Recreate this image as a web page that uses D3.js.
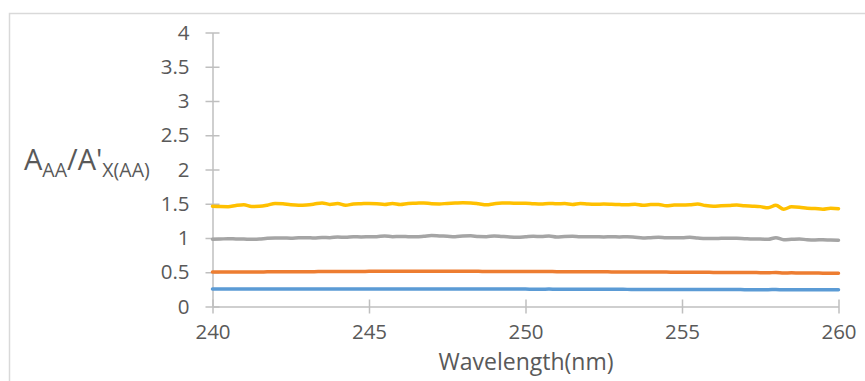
<!DOCTYPE html>
<html>
<head>
<meta charset="utf-8">
<script src="https://cdn.jsdelivr.net/npm/d3@7"></script>
<style>
  html, body { margin: 0; padding: 0; background: #fff; }
  svg { display: block; font-family: "Open Sans", sans-serif; }
</style>
</head>
<body>
<svg id="chart" width="865" height="381"></svg>
<script>
// Wavelength grid (nm), 0.25 nm step
const wavelengths = [
  240.00,240.25,240.50,240.75,241.00,241.25,241.50,241.75,242.00,242.25,242.50,242.75,
  243.00,243.25,243.50,243.75,244.00,244.25,244.50,244.75,245.00,245.25,245.50,245.75,
  246.00,246.25,246.50,246.75,247.00,247.25,247.50,247.75,248.00,248.25,248.50,248.75,
  249.00,249.25,249.50,249.75,250.00,250.25,250.50,250.75,251.00,251.25,251.50,251.75,
  252.00,252.25,252.50,252.75,253.00,253.25,253.50,253.75,254.00,254.25,254.50,254.75,
  255.00,255.25,255.50,255.75,256.00,256.25,256.50,256.75,257.00,257.25,257.50,257.75,
  258.00,258.25,258.50,258.75,259.00,259.25,259.50,259.75,260.00
];

// Absorbance ratios A_AA / A'_X(AA)
const seriesBlue = [
  0.255,0.255,0.254,0.255,0.255,0.254,0.255,0.255,0.255,0.254,0.255,0.255,
  0.255,0.255,0.256,0.255,0.255,0.255,0.256,0.255,0.256,0.256,0.255,0.256,
  0.256,0.255,0.255,0.256,0.255,0.255,0.255,0.254,0.255,0.255,0.254,0.254,
  0.254,0.254,0.255,0.254,0.254,0.253,0.253,0.254,0.253,0.253,0.252,0.252,
  0.252,0.252,0.251,0.252,0.251,0.250,0.250,0.250,0.250,0.249,0.249,0.249,
  0.249,0.248,0.248,0.248,0.247,0.247,0.247,0.247,0.246,0.246,0.246,0.246,
  0.247,0.245,0.245,0.245,0.245,0.244,0.244,0.244,0.244
];
const seriesOrange = [
  0.505,0.505,0.505,0.504,0.504,0.505,0.505,0.506,0.507,0.508,0.508,0.508,
  0.509,0.509,0.510,0.510,0.510,0.511,0.512,0.512,0.513,0.513,0.514,0.514,
  0.514,0.514,0.514,0.514,0.515,0.514,0.514,0.514,0.514,0.514,0.513,0.512,
  0.512,0.512,0.511,0.510,0.510,0.510,0.511,0.510,0.509,0.509,0.508,0.508,
  0.507,0.506,0.506,0.505,0.505,0.505,0.504,0.503,0.503,0.502,0.502,0.501,
  0.500,0.500,0.500,0.499,0.498,0.497,0.497,0.497,0.496,0.495,0.494,0.492,
  0.497,0.490,0.491,0.490,0.488,0.488,0.487,0.487,0.486
];
const seriesGray = [
  0.982,0.985,0.990,0.987,0.985,0.980,0.985,0.995,1.000,1.000,0.998,1.003,
  1.005,1.000,1.008,1.005,1.015,1.010,1.018,1.015,1.018,1.020,1.030,1.020,
  1.022,1.020,1.018,1.025,1.035,1.030,1.025,1.020,1.028,1.032,1.022,1.020,
  1.030,1.022,1.015,1.012,1.018,1.025,1.022,1.030,1.015,1.022,1.025,1.018,
  1.020,1.018,1.015,1.018,1.015,1.018,1.010,1.000,1.005,1.010,1.005,1.005,
  1.005,1.010,1.000,0.992,0.992,0.995,0.998,0.995,0.990,0.985,0.985,0.980,
  1.005,0.975,0.980,0.985,0.975,0.972,0.975,0.970,0.968
];
const seriesYellow = [
  1.465,1.460,1.458,1.475,1.485,1.460,1.462,1.478,1.505,1.500,1.485,1.478,
  1.482,1.495,1.512,1.490,1.502,1.478,1.495,1.500,1.505,1.500,1.490,1.505,
  1.490,1.505,1.508,1.512,1.500,1.498,1.505,1.510,1.515,1.512,1.500,1.485,
  1.500,1.510,1.510,1.508,1.508,1.500,1.495,1.505,1.500,1.502,1.490,1.505,
  1.495,1.492,1.495,1.492,1.488,1.485,1.492,1.478,1.488,1.490,1.470,1.480,
  1.480,1.485,1.495,1.475,1.465,1.470,1.475,1.482,1.470,1.465,1.458,1.440,
  1.478,1.420,1.455,1.450,1.435,1.430,1.420,1.435,1.428
];

const seriesList = [
  { values: seriesBlue,   color: "#5B9BD5" },
  { values: seriesOrange, color: "#ED7D31" },
  { values: seriesGray,   color: "#A5A5A5" },
  { values: seriesYellow, color: "#FFC000" }
];

const xTicks = [240, 245, 250, 255, 260];
const yTicks = [0, 0.5, 1, 1.5, 2, 2.5, 3, 3.5, 4];

const svg = d3.select("#chart");
const axisColor = "#BFBFBF";
const textColor = "#595959";

// Outer chart frame
svg.append("rect")
  .attr("x", 9.5).attr("y", 13.5)
  .attr("width", 880).attr("height", 400)
  .attr("fill", "none")
  .attr("stroke", "#D9D9D9")
  .attr("stroke-width", 1.5);

const x = d3.scaleLinear().domain([240, 260]).range([212.5, 838.5]);
const y = d3.scaleLinear().domain([0, 4]).range([306.5, 32.5]);

// Y axis
const yAxis = svg.append("g").attr("transform", `translate(${x(240)},0)`)
  .call(d3.axisLeft(y).tickValues(yTicks).tickSize(0).tickPadding(23)
    .tickFormat(d3.format("")));
yAxis.select(".domain").attr("stroke", axisColor).attr("stroke-width", 1.5);
yAxis.selectAll(".tick text").attr("fill", textColor).attr("font-size", 20.5)
  .attr("font-family", "Open Sans");
yAxis.selectAll(".tick").append("line")
  .attr("x1", -7).attr("x2", 7)
  .attr("stroke", axisColor).attr("stroke-width", 1.5);

// X axis
const xAxis = svg.append("g").attr("transform", `translate(0,${y(0)})`)
  .call(d3.axisBottom(x).tickValues(xTicks).tickSize(0).tickPadding(18)
    .tickFormat(d3.format("d")));
xAxis.select(".domain").attr("stroke", axisColor).attr("stroke-width", 1.5);
xAxis.selectAll(".tick text").attr("fill", textColor).attr("font-size", 20.5)
  .attr("font-family", "Open Sans");
xAxis.selectAll(".tick").append("line")
  .attr("y1", -7).attr("y2", 7)
  .attr("stroke", axisColor).attr("stroke-width", 1.5);

// Series lines
const line = d3.line()
  .x((d, i) => x(wavelengths[i]))
  .y(d => y(d))
  .curve(d3.curveMonotoneX);

svg.append("g").selectAll("path")
  .data(seriesList)
  .join("path")
  .attr("d", s => line(s.values))
  .attr("fill", "none")
  .attr("stroke", s => s.color)
  .attr("stroke-width", 3.5)
  .attr("stroke-linejoin", "round")
  .attr("stroke-linecap", "round");

// Axis titles
svg.append("text")
  .attr("x", 526).attr("y", 370)
  .attr("text-anchor", "middle")
  .attr("fill", textColor)
  .attr("font-size", 23)
  .text("Wavelength(nm)");

const yTitle = svg.append("text")
  .attr("x", 24).attr("y", 170)
  .attr("fill", textColor)
  .attr("font-size", 29);
yTitle.append("tspan").text("A");
yTitle.append("tspan").attr("font-size", 19.5).attr("dy", 7).text("AA");
yTitle.append("tspan").attr("dy", -7).text("/A'");
yTitle.append("tspan").attr("font-size", 19.5).attr("dy", 7).text("X(AA)");
</script>
</body>
</html>
